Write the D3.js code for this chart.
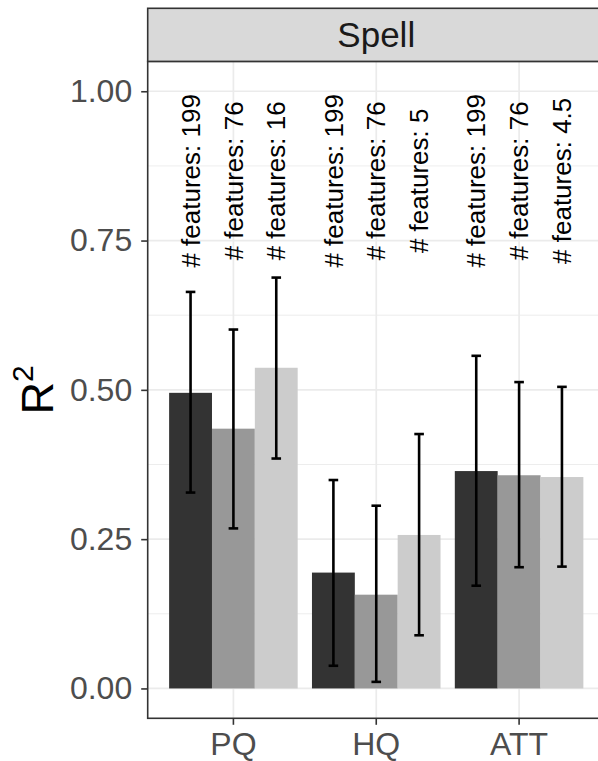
<!DOCTYPE html>
<html>
<head>
<meta charset="utf-8">
<script src="https://cdn.jsdelivr.net/npm/d3@7"></script>
<style>
  html, body { margin: 0; padding: 0; background: #ffffff; }
  svg { display: block; }
  text { font-family: "Liberation Sans", Arial, Helvetica, sans-serif; }
</style>
</head>
<body>
<svg id="chart" width="598" height="761"></svg>
<script>
// ---- data ----
const facet = "Spell";
const categories = ["PQ", "HQ", "ATT"];
const series = ["all", "selected", "minimal"];
const featureCounts = {
  PQ:  ["199", "76", "16"],
  HQ:  ["199", "76", "5"],
  ATT: ["199", "76", "4.5"]
};
const meanR2 = {
  PQ:  [0.495, 0.435, 0.537],
  HQ:  [0.194, 0.157, 0.257],
  ATT: [0.364, 0.357, 0.354]
};
const lowerR2 = {
  PQ:  [0.328, 0.268, 0.385],
  HQ:  [0.038, 0.011, 0.089],
  ATT: [0.172, 0.203, 0.204]
};
const upperR2 = {
  PQ:  [0.664, 0.601, 0.688],
  HQ:  [0.349, 0.306, 0.426],
  ATT: [0.557, 0.513, 0.505]
};
const yTicks = [0, 0.25, 0.5, 0.75, 1.0];
const yMinorTicks = [0.125, 0.375, 0.625, 0.875];
const labelValue = 0.85;

// ---- layout ----
const svg = d3.select("#chart");
const panel = { left: 147.7, right: 604.8, top: 61.4, bottom: 718.3 };
const strip = { top: 8.3, bottom: 61.4 };
const fills = ["#333333", "#989898", "#CCCCCC"];

const y = d3.scaleLinear().domain([-0.05, 1.05]).range([panel.bottom, panel.top]);
const x = d3.scaleBand().domain(categories).range([panel.left, panel.right])
  .paddingInner(0.1).paddingOuter(0.15);
const xs = d3.scaleBand().domain(series).range([0, x.bandwidth()]).padding(0);
const fill = d3.scaleOrdinal().domain(series).range(fills);

const rows = [];
categories.forEach(c => series.forEach((s, i) => rows.push({
  cat: c, ser: s, v: meanR2[c][i], lo: lowerR2[c][i], hi: upperR2[c][i],
  n: featureCounts[c][i]
})));

// panel background
svg.append("rect").attr("x", panel.left).attr("y", panel.top)
  .attr("width", panel.right - panel.left).attr("height", panel.bottom - panel.top)
  .attr("fill", "#ffffff");

// grid
const grid = svg.append("g");
grid.selectAll(".minor").data(yMinorTicks).join("line")
  .attr("x1", panel.left).attr("x2", panel.right)
  .attr("y1", d => y(d)).attr("y2", d => y(d))
  .attr("stroke", "#EBEBEB").attr("stroke-width", 0.9);
grid.selectAll(".major").data(yTicks).join("line")
  .attr("x1", panel.left).attr("x2", panel.right)
  .attr("y1", d => y(d)).attr("y2", d => y(d))
  .attr("stroke", "#EBEBEB").attr("stroke-width", 1.7);
grid.selectAll(".vmajor").data(categories).join("line")
  .attr("x1", d => x(d) + x.bandwidth() / 2).attr("x2", d => x(d) + x.bandwidth() / 2)
  .attr("y1", panel.top).attr("y2", panel.bottom)
  .attr("stroke", "#EBEBEB").attr("stroke-width", 1.7);

// bars
svg.append("g").selectAll("rect").data(rows).join("rect")
  .attr("x", d => x(d.cat) + xs(d.ser))
  .attr("width", xs.bandwidth())
  .attr("y", d => y(d.v))
  .attr("height", d => y(0) - y(d.v))
  .attr("fill", d => fill(d.ser));

// error bars
const capHalf = 4.8;
const eb = svg.append("g").attr("stroke", "#000000").attr("stroke-width", 2.6);
rows.forEach(d => {
  const cx = x(d.cat) + xs(d.ser) + xs.bandwidth() / 2;
  eb.append("line").attr("x1", cx).attr("x2", cx).attr("y1", y(d.lo)).attr("y2", y(d.hi));
  eb.append("line").attr("x1", cx - capHalf).attr("x2", cx + capHalf).attr("y1", y(d.lo)).attr("y2", y(d.lo));
  eb.append("line").attr("x1", cx - capHalf).attr("x2", cx + capHalf).attr("y1", y(d.hi)).attr("y2", y(d.hi));
});

// feature labels
svg.append("g").selectAll("text").data(rows).join("text")
  .attr("transform", d => `translate(${x(d.cat) + xs(d.ser) + xs.bandwidth() / 2},${y(labelValue)}) rotate(-90)`)
  .attr("text-anchor", "middle")
  .attr("dy", "0.35em")
  .attr("font-size", 26)
  .attr("fill", "#000000")
  .text(d => "# features: " + d.n);

// panel border (left and bottom visible; right is off-canvas)
svg.append("rect").attr("x", panel.left).attr("y", panel.top)
  .attr("width", panel.right - panel.left).attr("height", panel.bottom - panel.top)
  .attr("fill", "none").attr("stroke", "#333333").attr("stroke-width", 1.6);

// strip
svg.append("rect").attr("x", panel.left).attr("y", strip.top)
  .attr("width", panel.right - panel.left).attr("height", strip.bottom - strip.top)
  .attr("fill", "#D9D9D9").attr("stroke", "#333333").attr("stroke-width", 1.6);
svg.append("text")
  .attr("x", (panel.left + panel.right) / 2)
  .attr("y", (strip.top + strip.bottom) / 2)
  .attr("dy", "0.36em")
  .attr("text-anchor", "middle")
  .attr("font-size", 35)
  .attr("fill", "#1A1A1A")
  .text(facet);

// y axis
const yAxis = d3.axisLeft(y).tickValues(yTicks).tickFormat(d3.format(".2f"))
  .tickSize(6.5).tickPadding(9);
const gy = svg.append("g").attr("transform", `translate(${panel.left},0)`).call(yAxis);
gy.select(".domain").remove();
gy.selectAll(".tick line").attr("stroke", "#333333").attr("stroke-width", 1.6);
gy.selectAll(".tick text").attr("font-size", 32).attr("fill", "#4D4D4D")
  .attr("font-family", "Liberation Sans, Arial, sans-serif");

// x axis
const xAxis = d3.axisBottom(x).tickSize(6.5).tickPadding(8);
const gx = svg.append("g").attr("transform", `translate(0,${panel.bottom})`).call(xAxis);
gx.select(".domain").remove();
gx.selectAll(".tick line").attr("stroke", "#333333").attr("stroke-width", 1.6);
gx.selectAll(".tick text").attr("font-size", 32).attr("fill", "#4D4D4D")
  .attr("font-family", "Liberation Sans, Arial, sans-serif")
  .attr("dy", null).attr("y", 36.7);

// y title R^2
const yt = svg.append("text")
  .attr("transform", `translate(53.3,${(panel.top + panel.bottom) / 2}) rotate(-90)`)
  .attr("text-anchor", "middle")
  .attr("font-size", 45)
  .attr("fill", "#000000");
yt.append("tspan").text("R");
yt.append("tspan").attr("font-size", 30).attr("dy", -20).text("2");
</script>
</body>
</html>
